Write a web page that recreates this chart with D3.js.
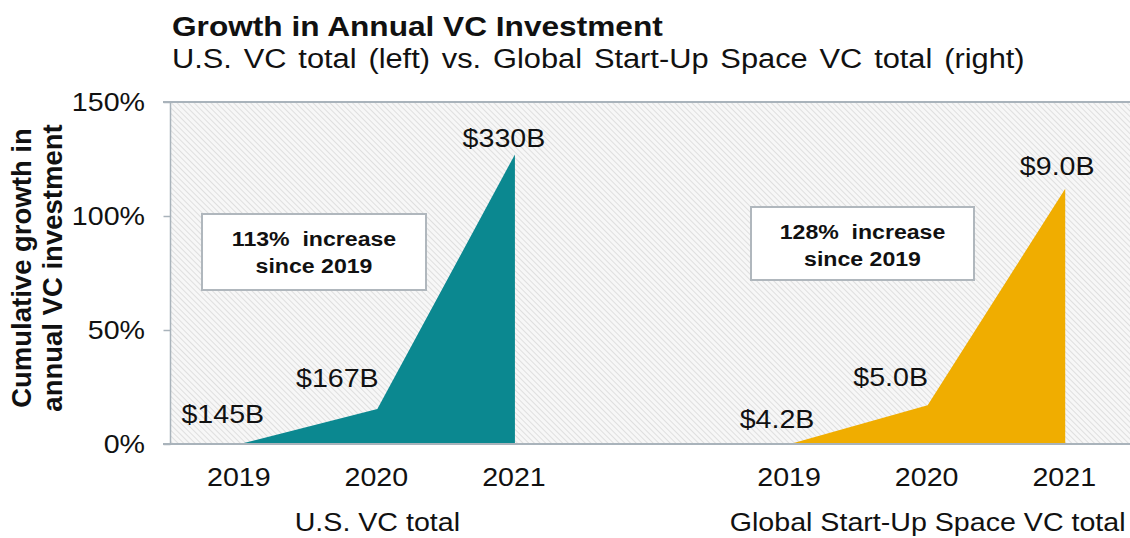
<!DOCTYPE html>
<html>
<head>
<meta charset="utf-8">
<script src="https://cdn.jsdelivr.net/npm/d3@7"></script>
<style>
  html, body { margin: 0; padding: 0; background: #ffffff; }
  svg { display: block; }
  text { font-family: "Liberation Sans", Arial, sans-serif; fill: #111; }
</style>
</head>
<body>
<svg id="chart" width="1130" height="538"></svg>
<script>
// ---------------- data ----------------
const categories = ["2019", "2020", "2021"];
const usGrowth = [0, 15.3, 127];          // cumulative growth, %
const spaceGrowth = [0, 17, 112];         // cumulative growth, %
const usLabels = ["$145B", "$167B", "$330B"];
const spaceLabels = ["$4.2B", "$5.0B", "$9.0B"];
const groupNames = ["U.S. VC total", "Global Start-Up Space VC total"];
const annotations = ["113%\u00a0\u00a0increase|since 2019", "128%\u00a0\u00a0increase|since 2019"];
const yTicks = [0, 50, 100, 150];
const titleText = "Growth in Annual VC Investment";
const subtitleText = "U.S. VC total (left) vs. Global Start-Up Space VC total (right)";
const yTitleLines = ["Cumulative growth in", "annual VC investment"];

// ---------------- layout / style ----------------
const W = 1130, H = 538;
const plot = { left: 171, right: 1134, top: 102, bottom: 444 };
const colors = ["#0b8890", "#f0ad00"];
const axisColor = "#a9b3bb";
const SX = 1.1; // horizontal stretch of glyphs seen in the reference

const svg = d3.select("#chart");

// slot keys: 3 US years, a gap, 3 space years
const slots = [
  ...categories.map(c => "us-" + c),
  "gap",
  ...categories.map(c => "sp-" + c)
];
const x = d3.scalePoint().domain(slots).range([plot.left, plot.right]).padding(0.5);
const y = d3.scaleLinear().domain([0, 150]).range([plot.bottom, plot.top]);

// hatch pattern
const defs = svg.append("defs");
const pat = defs.append("pattern")
  .attr("id", "hatch").attr("patternUnits", "userSpaceOnUse")
  .attr("width", 4).attr("height", 4)
  .attr("patternTransform", "rotate(-45)");
pat.append("rect").attr("width", 4).attr("height", 4).attr("fill", "#f7f7f7");
pat.append("line").attr("x1", 0).attr("y1", 0).attr("x2", 0).attr("y2", 4)
  .attr("stroke", "#d8d8d8").attr("stroke-width", 1.5);

svg.append("rect")
  .attr("x", plot.left).attr("y", y(150))
  .attr("width", W - plot.left).attr("height", y(0) - y(150))
  .attr("fill", "url(#hatch)");

// helper: stretched text
function stext(g, str, px, py, opts) {
  const t = g.append("text")
    .attr("transform", `translate(${px},${py}) scale(${opts.sx ?? SX},1)`)
    .attr("text-anchor", opts.anchor || "middle")
    .attr("font-size", opts.size)
    .attr("font-weight", opts.weight || "normal")
    .text(str);
  if (opts.ws) t.attr("word-spacing", opts.ws);
  return t;
}

// areas
const series = [
  { keys: categories.map(c => "us-" + c), vals: usGrowth, labels: usLabels, color: colors[0] },
  { keys: categories.map(c => "sp-" + c), vals: spaceGrowth, labels: spaceLabels, color: colors[1] }
];
const area = d3.area()
  .x(d => x(d.k)).y0(y(0)).y1(d => y(d.v));

series.forEach(s => {
  const pts = s.keys.map((k, i) => ({ k, v: s.vals[i] }));
  svg.append("path").datum(pts).attr("d", area).attr("fill", s.color);
});

// y axis
const yAxis = d3.axisLeft(y).tickValues(yTicks).tickSize(7).tickFormat(d => d + "%");
const yg = svg.append("g").attr("transform", `translate(${plot.left - 0.5},0)`).call(yAxis);
yg.select(".domain").attr("stroke", axisColor).attr("stroke-width", 1.5).attr("d", `M0,${y(150)}V${y(0)}`);
yg.selectAll(".tick line").attr("stroke", axisColor).attr("stroke-width", 1.5);
yg.selectAll(".tick text").remove();
yTicks.forEach(t => {
  stext(svg, t + "%", 145, y(t) + 9, { size: 26, anchor: "end" });
});

// top border & baseline
svg.append("line").attr("x1", plot.left - 8).attr("x2", W).attr("y1", y(150)).attr("y2", y(150))
  .attr("stroke", axisColor).attr("stroke-width", 2);
svg.append("line").attr("x1", plot.left - 8).attr("x2", W).attr("y1", y(0)).attr("y2", y(0))
  .attr("stroke", axisColor).attr("stroke-width", 2);

// x tick labels
series.forEach(s => {
  s.keys.forEach((k, i) => {
    stext(svg, categories[i], x(k) - 1, 486, { size: 26 });
  });
});

// group names
stext(svg, groupNames[0], x("us-2020"), 531, { size: 26 });
stext(svg, groupNames[1], x("sp-2020"), 531, { size: 26 });

// value labels (offsets from the point, layout only)
const labelOffsets = [
  [[-17, -21], [-40, -22], [-11, -7]],
  [[-13, -16], [-37, -19], [-8, -14]]
];
series.forEach((s, si) => {
  s.keys.forEach((k, i) => {
    const [dx, dy] = labelOffsets[si][i];
    stext(svg, s.labels[i], x(k) + dx, y(s.vals[i]) + dy, { size: 26 });
  });
});

// annotation boxes
const boxes = [
  { x: 202, y: 214, w: 224, h: 76 },
  { x: 751, y: 207, w: 223, h: 73 }
];
boxes.forEach((b, i) => {
  svg.append("rect").attr("x", b.x).attr("y", b.y).attr("width", b.w).attr("height", b.h)
    .attr("fill", "#ffffff").attr("stroke", "#b0b7bd").attr("stroke-width", 2);
  const lines = annotations[i].split("|");
  const cx = b.x + b.w / 2;
  stext(svg, lines[0], cx, b.y + 32, { size: 21, weight: "bold" });
  stext(svg, lines[1], cx, b.y + 59, { size: 21, weight: "bold" });
});

// titles
stext(svg, titleText, 172, 36, { size: 28, weight: "bold", anchor: "start", sx: 1.13 });
stext(svg, subtitleText, 172, 68, { size: 28, anchor: "start", ws: 3 });

// y-axis title
yTitleLines.forEach((ln, i) => {
  svg.append("text")
    .attr("transform", `translate(${[31, 62][i]},${268}) rotate(-90)`)
    .attr("text-anchor", "middle").attr("font-size", 27.5).attr("font-weight", "bold")
    .text(ln);
});
</script>
</body>
</html>
